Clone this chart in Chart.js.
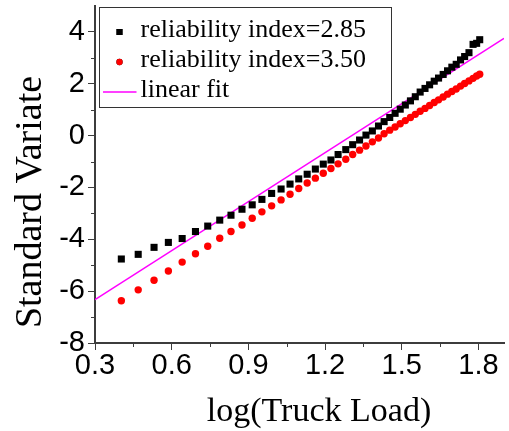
<!DOCTYPE html>
<html>
<head>
<meta charset="utf-8">
<script src="https://cdn.jsdelivr.net/npm/chart.js@4"></script>
<style>
  html, body { margin: 0; padding: 0; background: #fff; }
  #wrap { width: 509px; height: 431px; }
</style>
</head>
<body>
<div id="wrap"><canvas id="chart" width="509" height="431"></canvas></div>
<script>
// log(Truck Load) positions shared by both reliability series
const logLoad = [
  0.403, 0.469, 0.531, 0.587, 0.641, 0.693, 0.741, 0.788, 0.832, 0.875,
  0.915, 0.953, 0.991, 1.028, 1.063, 1.097, 1.130, 1.162, 1.193, 1.223,
  1.251, 1.281, 1.308, 1.335, 1.360, 1.385, 1.409, 1.431, 1.453, 1.474,
  1.494, 1.514, 1.534, 1.553, 1.572, 1.591, 1.609, 1.627, 1.644, 1.662,
  1.679, 1.696, 1.713, 1.730, 1.746, 1.763, 1.779, 1.793, 1.805
];

// standard variate, reliability index = 2.85
const variate285 = [
  -4.76, -4.58, -4.31, -4.12, -3.97, -3.70, -3.49, -3.26, -3.07, -2.84,
  -2.67, -2.46, -2.23, -2.06, -1.87, -1.67, -1.49, -1.29, -1.10, -0.94,
  -0.73, -0.54, -0.35, -0.17, 0.02, 0.18, 0.37, 0.54, 0.70, 0.86,
  1.02, 1.18, 1.34, 1.50, 1.68, 1.82, 1.96, 2.10, 2.22, 2.36,
  2.50, 2.64, 2.75, 2.92, 3.05, 3.20, 3.52, 3.56, 3.70
];

// standard variate, reliability index = 3.50
const variate350 = [
  -6.37, -5.95, -5.58, -5.22, -4.88, -4.56, -4.27, -3.96, -3.70, -3.45,
  -3.19, -2.94, -2.71, -2.48, -2.26, -2.04, -1.83, -1.64, -1.45, -1.27,
  -1.09, -0.91, -0.73, -0.56, -0.40, -0.24, -0.09, 0.07, 0.21, 0.33,
  0.46, 0.58, 0.70, 0.82, 0.94, 1.05, 1.16, 1.28, 1.38, 1.49,
  1.60, 1.70, 1.80, 1.91, 2.01, 2.11, 2.21, 2.30, 2.37
];

// end points of the linear fit
const fitX = [0.3, 1.9];
const fitY = [-6.33, 3.75];

// axis tick values
const xTickValues = [0.3, 0.6, 0.9, 1.2, 1.5, 1.8];
const yTickValues = [-8, -6, -4, -2, 0, 2, 4];

const seriesLabels = ['reliability index=2.85', 'reliability index=3.50', 'linear fit'];
const xTitle = 'log(Truck Load)';
const yTitle = 'Standard Variate';

const toPoints = (xs, ys) => xs.map((x, i) => ({ x: x, y: ys[i] }));

const AXIS_COLOR = '#3c3c3c';
const SERIF = '"Liberation Serif", "Times New Roman", serif';
const SANS = '"Liberation Sans", Arial, sans-serif';

// remove the edge padding Chart.js reserves for end labels
const noEdgePadding = s => {
  s.paddingTop = 0; s.paddingBottom = 0; s.paddingLeft = 0; s.paddingRight = 0;
};

// short minor ticks halfway between the labelled ones
const minorTicks = {
  id: 'minorTicks',
  afterDraw(chart) {
    const ctx = chart.ctx;
    const xs = chart.scales.x, ys = chart.scales.y;
    ctx.save();
    ctx.strokeStyle = AXIS_COLOR;
    ctx.lineWidth = 1;
    ctx.beginPath();
    for (let i = 0; i < xTickValues.length - 1; i++) {
      const px = Math.round(xs.getPixelForValue((xTickValues[i] + xTickValues[i + 1]) / 2)) + 0.5;
      ctx.moveTo(px, xs.top);
      ctx.lineTo(px, xs.top + 4);
    }
    for (let i = 0; i < yTickValues.length - 1; i++) {
      const py = Math.round(ys.getPixelForValue((yTickValues[i] + yTickValues[i + 1]) / 2)) + 0.5;
      ctx.moveTo(ys.right, py);
      ctx.lineTo(ys.right - 4, py);
    }
    ctx.stroke();
    ctx.restore();
  }
};

// axis titles, placed a little off-centre under and beside the plot
const axisTitles = {
  id: 'axisTitles',
  afterDraw(chart) {
    const ctx = chart.ctx;
    const area = chart.chartArea;
    ctx.save();
    ctx.fillStyle = '#000';
    ctx.textAlign = 'center';
    ctx.textBaseline = 'alphabetic';
    ctx.font = '34px ' + SERIF;
    ctx.fillText(xTitle, area.left + 224, 421);
    ctx.translate(41, area.top + 196);
    ctx.rotate(-Math.PI / 2);
    ctx.font = '38px ' + SERIF;
    ctx.fillText(yTitle, 0, 0);
    ctx.restore();
  }
};

// boxed legend in the upper-left corner of the plot
const boxLegend = {
  id: 'boxLegend',
  afterDraw(chart) {
    const ctx = chart.ctx;
    const area = chart.chartArea;
    const left = area.left + 4.5, top = 7.5, w = 292, h = 100;
    ctx.save();
    ctx.fillStyle = '#fff';
    ctx.fillRect(left, top, w, h);
    ctx.strokeStyle = '#333';
    ctx.lineWidth = 1;
    ctx.strokeRect(left, top, w, h);
    ctx.font = '26px ' + SERIF;
    ctx.fillStyle = '#000';
    ctx.textBaseline = 'alphabetic';
    ctx.textAlign = 'left';
    chart.data.datasets.forEach((ds, i) => {
      const base = top + 29 + i * 30;
      const my = base - 4.5;
      if (ds.showLine) {
        ctx.strokeStyle = ds.borderColor;
        ctx.lineWidth = ds.borderWidth;
        ctx.beginPath();
        ctx.moveTo(left + 3.5, my);
        ctx.lineTo(left + 37, my);
        ctx.stroke();
      } else {
        Chart.helpers.drawPoint(ctx, {
          pointStyle: ds.pointStyle,
          radius: ds.pointRadius * 0.85,
          borderWidth: 0,
          rotation: 0
        }, left + 20, my);
        ctx.fillStyle = ds.backgroundColor;
        ctx.fill();
      }
      ctx.fillStyle = '#000';
      ctx.fillText(ds.label, left + 41, base);
    });
    ctx.restore();
  }
};

new Chart(document.getElementById('chart'), {
  type: 'scatter',
  data: {
    datasets: [
      {
        label: seriesLabels[0],
        data: toPoints(logLoad, variate285),
        pointStyle: 'rect',
        pointRadius: 5,
        pointHoverRadius: 5,
        backgroundColor: '#000000',
        borderWidth: 0
      },
      {
        label: seriesLabels[1],
        data: toPoints(logLoad, variate350),
        pointStyle: 'circle',
        pointRadius: 3.7,
        pointHoverRadius: 3.7,
        backgroundColor: '#ff0000',
        borderWidth: 0
      },
      {
        label: seriesLabels[2],
        type: 'line',
        data: toPoints(fitX, fitY),
        showLine: true,
        borderColor: '#ff00ff',
        borderWidth: 1.5,
        pointRadius: 0,
        fill: false
      }
    ]
  },
  options: {
    responsive: false,
    animation: false,
    devicePixelRatio: 1,
    layout: { padding: { top: 6, right: 0, bottom: 0, left: 0 } },
    plugins: {
      legend: { display: false },
      tooltip: { enabled: false }
    },
    scales: {
      x: {
        type: 'linear',
        min: 0.3,
        max: 1.9,
        afterBuildTicks: s => { s.ticks = xTickValues.map(v => ({ value: v })); },
        afterFit: s => { s.height = 88; noEdgePadding(s); },
        border: { display: true, color: AXIS_COLOR, width: 2 },
        grid: { display: true, drawOnChartArea: false, drawTicks: true, tickLength: 7, color: AXIS_COLOR, lineWidth: 1 },
        ticks: {
          color: '#000',
          font: { family: SANS, size: 29 },
          padding: -1,
          maxRotation: 0,
          autoSkip: false,
          callback: v => Number(v).toFixed(1)
        },
        title: { display: false }
      },
      y: {
        type: 'linear',
        min: -8,
        max: 5,
        afterBuildTicks: s => { s.ticks = yTickValues.map(v => ({ value: v })); },
        afterFit: s => { s.width = 95; noEdgePadding(s); },
        border: { display: true, color: AXIS_COLOR, width: 2 },
        grid: { display: true, drawOnChartArea: false, drawTicks: true, tickLength: 7, color: AXIS_COLOR, lineWidth: 1 },
        ticks: {
          color: '#000',
          font: { family: SANS, size: 29 },
          padding: 3,
          autoSkip: false,
          callback: v => String(v)
        },
        title: { display: false }
      }
    }
  },
  plugins: [minorTicks, axisTitles, boxLegend]
});
</script>
</body>
</html>
